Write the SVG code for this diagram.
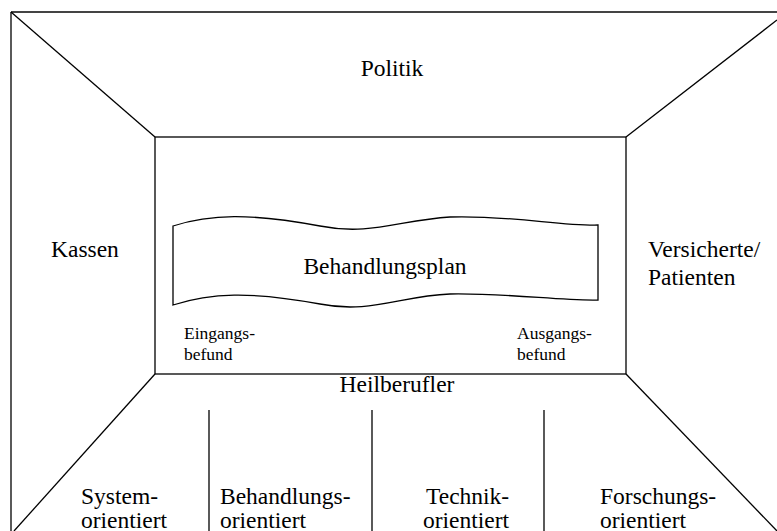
<svg xmlns="http://www.w3.org/2000/svg" width="777" height="531" viewBox="0 0 777 531">
<style>
.ln{stroke:#000;stroke-width:1.3;fill:none}
.t{font-family:'Liberation Serif',serif;font-size:23.5px;fill:#000}
.s{font-family:'Liberation Serif',serif;font-size:17.5px;fill:#000}
</style>
<rect width="777" height="531" fill="#fff"/>
<g id="connectors">
<line x1="11" y1="12" x2="777" y2="12" stroke="#444" stroke-width="1.8"/>
<line class="ln" x1="11" y1="12" x2="11" y2="531"/>
<line class="ln" x1="11" y1="12" x2="155" y2="137"/>
<line class="ln" x1="777" y1="20" x2="626" y2="137"/>
<line class="ln" x1="155" y1="374" x2="14" y2="531"/>
<line class="ln" x1="626" y1="374" x2="777" y2="531"/>
<line class="ln" x1="209" y1="410" x2="209" y2="531"/>
<line class="ln" x1="372" y1="410" x2="372" y2="531"/>
<line class="ln" x1="544" y1="410" x2="544" y2="531"/>
</g>
<g id="inner">
<rect class="ln" x="155" y="137" width="471" height="237"/>
</g>
<g id="politik"><text class="t" x="392" y="76" text-anchor="middle">Politik</text></g>
<g id="kassen"><text class="t" x="51" y="257">Kassen</text></g>
<g id="versicherte"><text class="t" x="648" y="257">Versicherte/</text><text class="t" x="648" y="285">Patienten</text></g>
<g id="behandlungsplan">
<path class="ln" d="M173,226 C210,214 250,213 320,226 C370,236 400,220 450,217 C510,215 560,226 598,225 L598,300 C560,301 510,293 450,294 C400,296 370,314 320,304 C250,291 210,293 173,305 Z"/>
<text class="t" x="385" y="274" text-anchor="middle">Behandlungsplan</text>
</g>
<g id="eingang"><text class="s" x="184" y="339">Eingangs-</text><text class="s" x="184" y="360">befund</text></g>
<g id="ausgang"><text class="s" x="517" y="339">Ausgangs-</text><text class="s" x="517" y="360">befund</text></g>
<g id="heilberufler"><text class="t" x="397" y="392" text-anchor="middle">Heilberufler</text></g>
<g id="system"><text class="t" x="81" y="504">System-</text><text class="t" x="81" y="528">orientiert</text></g>
<g id="behandlung"><text class="t" x="220" y="504">Behandlungs-</text><text class="t" x="220" y="528">orientiert</text></g>
<g id="technik"><text class="t" x="426" y="504">Technik-</text><text class="t" x="423" y="528">orientiert</text></g>
<g id="forschung"><text class="t" x="600" y="504">Forschungs-</text><text class="t" x="600" y="528">orientiert</text></g>
</svg>
